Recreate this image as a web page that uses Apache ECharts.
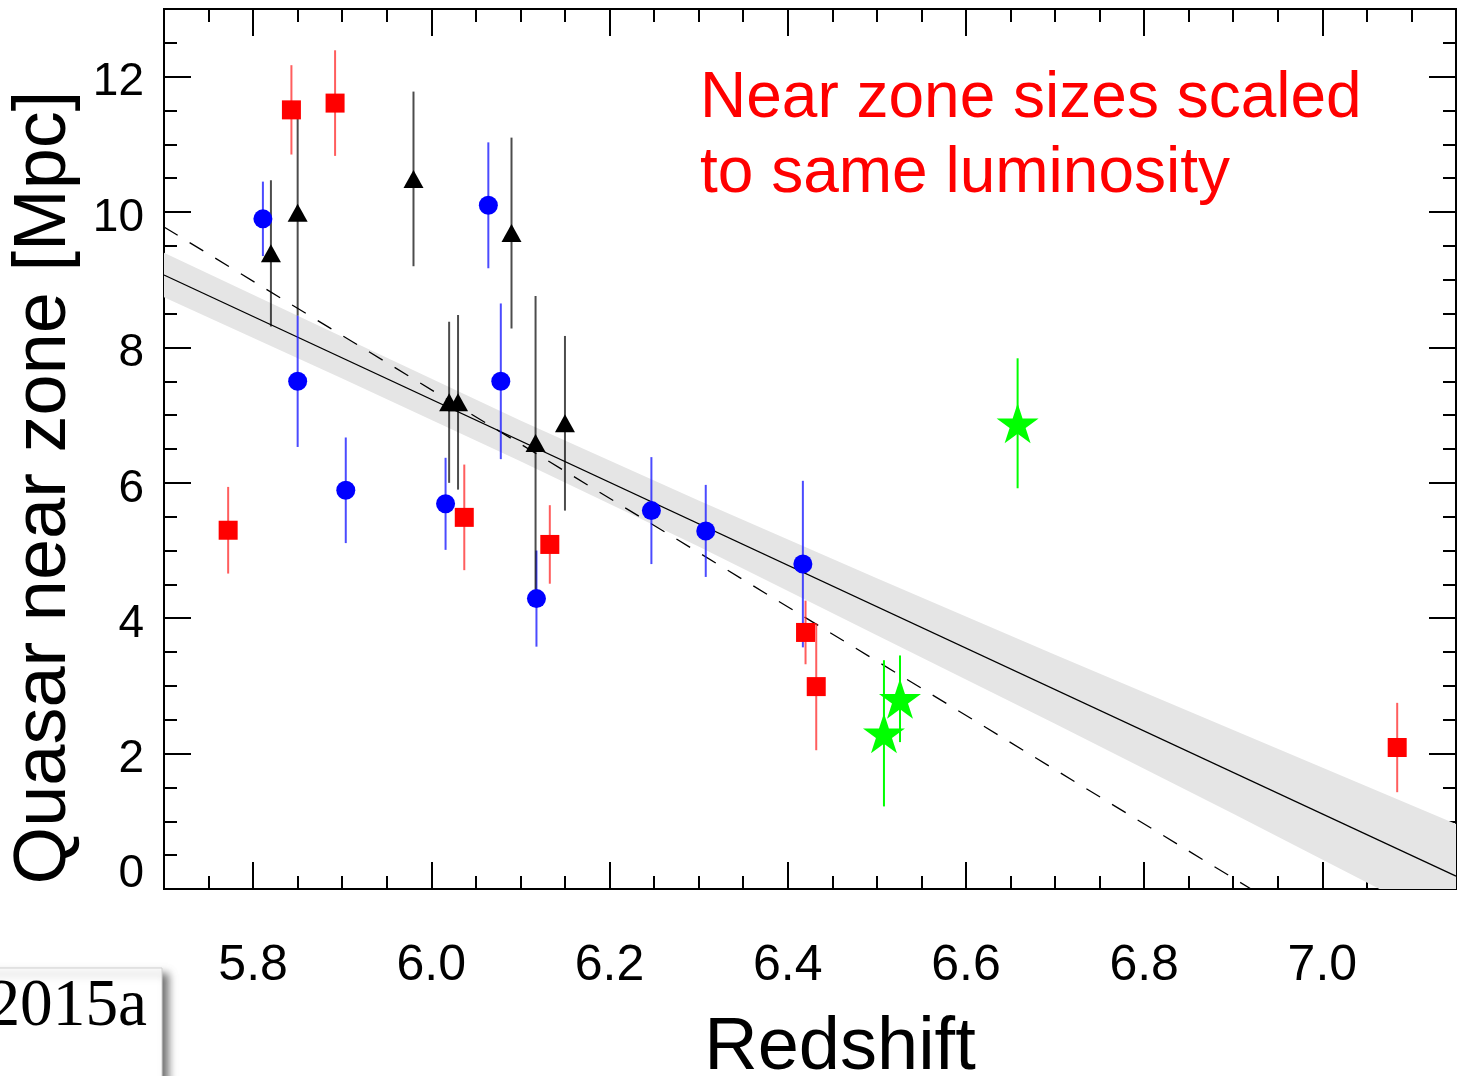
<!DOCTYPE html>
<html><head><meta charset="utf-8">
<script src="https://cdn.jsdelivr.net/npm/echarts@6/dist/echarts.min.js"></script>
<style>html,body{margin:0;padding:0;background:#fff}#c{width:1466px;height:1076px}</style>
</head><body><div id="c"></div>
<script>
const FONT = "'Liberation Sans', Arial, Helvetica, sans-serif";
const SERIF = "'Liberation Serif', 'Times New Roman', serif";

// tick labels / tick positions
const xMajorTicks = [5.8, 6.0, 6.2, 6.4, 6.6, 6.8, 7.0];
const xMinorTicks = [5.75, 5.85, 5.9, 5.95, 6.05, 6.1, 6.15, 6.25, 6.3, 6.35, 6.45, 6.5, 6.55, 6.65, 6.7, 6.75, 6.85, 6.9, 6.95, 7.05, 7.1];
const yMajorTicks = [0, 2, 4, 6, 8, 10, 12];
const yMinorTicks = [0.5, 1, 1.5, 2.5, 3, 3.5, 4.5, 5, 5.5, 6.5, 7, 7.5, 8.5, 9, 9.5, 10.5, 11, 11.5, 12.5];

// red squares
const redZ   = [5.772, 5.843, 5.892, 6.037, 6.133, 6.420, 6.432, 7.084];
const redR   = [5.30, 11.51, 11.61, 5.49, 5.09, 3.79, 2.99, 2.09];
const redErr = [0.64, 0.66, 0.78, 0.78, 0.58, 0.47, 0.94, 0.66];
// blue circles
const blueZ   = [5.811, 5.850, 5.904, 6.016, 6.064, 6.078, 6.118, 6.247, 6.308, 6.417];
const blueR   = [9.90, 7.50, 5.89, 5.69, 10.10, 7.50, 4.29, 5.59, 5.29, 4.80];
const blueErr = [0.55, 0.97, 0.78, 0.68, 0.93, 1.15, 0.71, 0.79, 0.68, 1.23];
// black triangles
const blackZ   = [5.820, 5.850, 5.980, 6.020, 6.030, 6.090, 6.117, 6.150];
const blackR   = [9.39, 9.99, 10.49, 7.19, 7.19, 9.69, 6.59, 6.88];
const blackErr = [1.08, 1.52, 1.29, 1.19, 1.29, 1.41, 2.17, 1.29];
// green stars
const greenZ   = [6.508, 6.526, 6.658];
const greenR   = [2.30, 2.81, 6.88];
const greenErr = [1.08, 0.64, 0.96];

// fits
const fitZ  = [5.7, 7.15];
const fitR  = [9.07, 0.19];
const dashZ = [5.7, 6.92];
const dashR = [9.78, 0.0];
// uncertainty band around fit
const bandZ  = [5.7, 5.9, 6.1, 6.3, 6.5, 6.7, 6.9, 7.15];
const bandHi = [9.40, 8.16, 6.92, 5.74, 4.59, 3.46, 2.35, 0.96];
const bandLo = [8.74, 7.54, 6.32, 5.06, 3.75, 2.44, 1.11, -0.58];

const STAR = 'path://M95.1 0 L117.55 69.1 L190.2 69.1 L131.4 111.8 L153.9 180.9 L95.1 138.2 L36.3 180.9 L58.8 111.8 L0 69.1 L72.65 69.1 Z';

function pts(zs, rs) { return zs.map((z, i) => [z, rs[i]]); }
function errPts(zs, rs, es) { return zs.map((z, i) => [z, rs[i], es[i]]); }

function errSeries(zs, rs, es, color) {
  return {
    type: 'custom', z: 3, clip: true,
    data: errPts(zs, rs, es),
    encode: { x: 0, y: 1 },
    renderItem: function (params, api) {
      const x = api.value(0), y = api.value(1), e = api.value(2);
      const a = api.coord([x, y - e]), b = api.coord([x, y + e]);
      return { type: 'line', shape: { x1: a[0], y1: a[1], x2: b[0], y2: b[1] },
               style: { stroke: color, lineWidth: 2 } };
    }
  };
}

const axisLineStyle = { color: '#000', width: 2 };
function xAx(pos, ticks, len, labels) {
  return {
    type: 'value', min: 5.7, max: 7.15, position: pos,
    axisLine: { show: true, onZero: false, lineStyle: axisLineStyle },
    axisTick: { show: true, inside: true, length: len, customValues: ticks, lineStyle: { color: '#000', width: 2 } },
    axisLabel: labels ? {
      show: true, customValues: ticks, margin: 52, fontSize: 50, lineHeight: 50, color: '#000', fontFamily: FONT,
      formatter: v => Number(v).toFixed(1)
    } : { show: false, customValues: ticks },
    splitLine: { show: false }
  };
}
function yAx(pos, ticks, len, labels) {
  return {
    type: 'value', min: 0, max: 13, position: pos,
    axisLine: { show: true, onZero: false, lineStyle: axisLineStyle },
    axisTick: { show: true, inside: true, length: len, customValues: ticks, lineStyle: { color: '#000', width: 2 } },
    axisLabel: labels ? {
      show: true, customValues: ticks, margin: 20, color: '#000',
      formatter: v => (v === 0 ? '{z|0}' : '{n|' + v + '}'),
      rich: {
        n: { fontSize: 46, lineHeight: 46, fontFamily: FONT, color: '#000', padding: [12, 0, 0, 0] },
        z: { fontSize: 46, lineHeight: 46, fontFamily: FONT, color: '#000', padding: [0, 0, 30, 0] }
      }
    } : { show: false, customValues: ticks },
    splitLine: { show: false }
  };
}

const xAxes = [xAx('bottom', xMajorTicks, 27, true), xAx('bottom', xMinorTicks, 13, false),
               xAx('top', xMajorTicks, 27, false), xAx('top', xMinorTicks, 13, false)];
xAxes[0].name = 'Redshift';
xAxes[0].nameLocation = 'middle';
xAxes[0].nameGap = 160;
xAxes[0].nameTextStyle = { fontSize: 74, lineHeight: 74, fontFamily: FONT, color: '#000', verticalAlign: 'middle', padding: [0, 0, 0, 60] };

const yAxes = [yAx('left', yMajorTicks, 27, true), yAx('left', yMinorTicks, 13, false),
               yAx('right', yMajorTicks, 27, false), yAx('right', yMinorTicks, 13, false)];
yAxes[0].name = 'Quasar near zone [Mpc]';
yAxes[0].nameLocation = 'middle';
yAxes[0].nameRotate = 90;
yAxes[0].nameGap = 101;
yAxes[0].nameTextStyle = { fontSize: 74, lineHeight: 74, fontFamily: FONT, color: '#000', verticalAlign: 'middle', padding: [0, 77, 0, 0] };

const option = {
  animation: false,
  backgroundColor: '#fff',
  grid: { left: 164, right: 10, top: 9, bottom: 187, containLabel: false, outerBoundsMode: 'none' },
  xAxis: xAxes,
  yAxis: yAxes,
  graphic: [
    { type: 'text', left: 700, top: 62, z: 10,
      style: { text: 'Near zone sizes scaled\nto same luminosity', fill: '#ff0000', font: '64px ' + FONT, lineHeight: 75 } },
    { type: 'rect', shape: { x: -20, y: 968, width: 182, height: 130 }, z: 10,
      style: { fill: '#fff', stroke: '#cfcfcf', lineWidth: 1, shadowColor: 'rgba(0,0,0,0.55)', shadowBlur: 8, shadowOffsetX: 6, shadowOffsetY: 6 } },
    { type: 'text', x: 147, y: 1007, z: 11, scaleX: 0.96, originX: 0, originY: 0,
      style: { text: '2015a', fill: '#000', font: '68px ' + SERIF, align: 'right', verticalAlign: 'middle' } }
  ],
  series: [
    { type: 'custom', z: 1, clip: true, silent: true,
      data: bandZ.map((z, i) => [z, bandLo[i], bandHi[i]]),
      encode: { x: 0, y: [1, 2] },
      renderItem: function (params, api) {
        if (params.dataIndex !== 0) return null;
        const top = bandZ.map((z, i) => api.coord([z, bandHi[i]]));
        const bot = bandZ.map((z, i) => api.coord([z, bandLo[i]])).reverse();
        return { type: 'polygon', shape: { points: top.concat(bot) }, style: { fill: '#e5e5e5' } };
      }
    },
    { type: 'line', z: 2, data: pts(fitZ, fitR), symbol: 'none', lineStyle: { color: '#000', width: 1.3 } },
    { type: 'line', z: 2, data: pts(dashZ, dashR), symbol: 'none', lineStyle: { color: '#000', width: 1.3, type: [16, 14] } },
    errSeries(redZ, redR, redErr, 'rgba(255,40,40,0.75)'),
    errSeries(blueZ, blueR, blueErr, 'rgba(30,30,255,0.8)'),
    errSeries(blackZ, blackR, blackErr, 'rgba(0,0,0,0.7)'),
    errSeries(greenZ, greenR, greenErr, '#00ff00'),
    { type: 'scatter', z: 4, data: pts(redZ, redR), symbol: 'rect', symbolSize: 19, itemStyle: { color: '#ff0000', opacity: 1 } },
    { type: 'scatter', z: 4, data: pts(blueZ, blueR), symbol: 'circle', symbolSize: 19, itemStyle: { color: '#0000ff', opacity: 1 } },
    { type: 'scatter', z: 4, data: pts(blackZ, blackR), symbol: 'triangle', symbolSize: [20, 18], itemStyle: { color: '#000', opacity: 1 } },
    { type: 'scatter', z: 4, data: pts(greenZ, greenR), symbol: STAR, symbolSize: [42, 40], itemStyle: { color: '#00ff00', opacity: 1 } }
  ]
};
const chart = echarts.init(document.getElementById('c'), null, { renderer: 'canvas' });
chart.setOption(option);
</script>
</body></html>
